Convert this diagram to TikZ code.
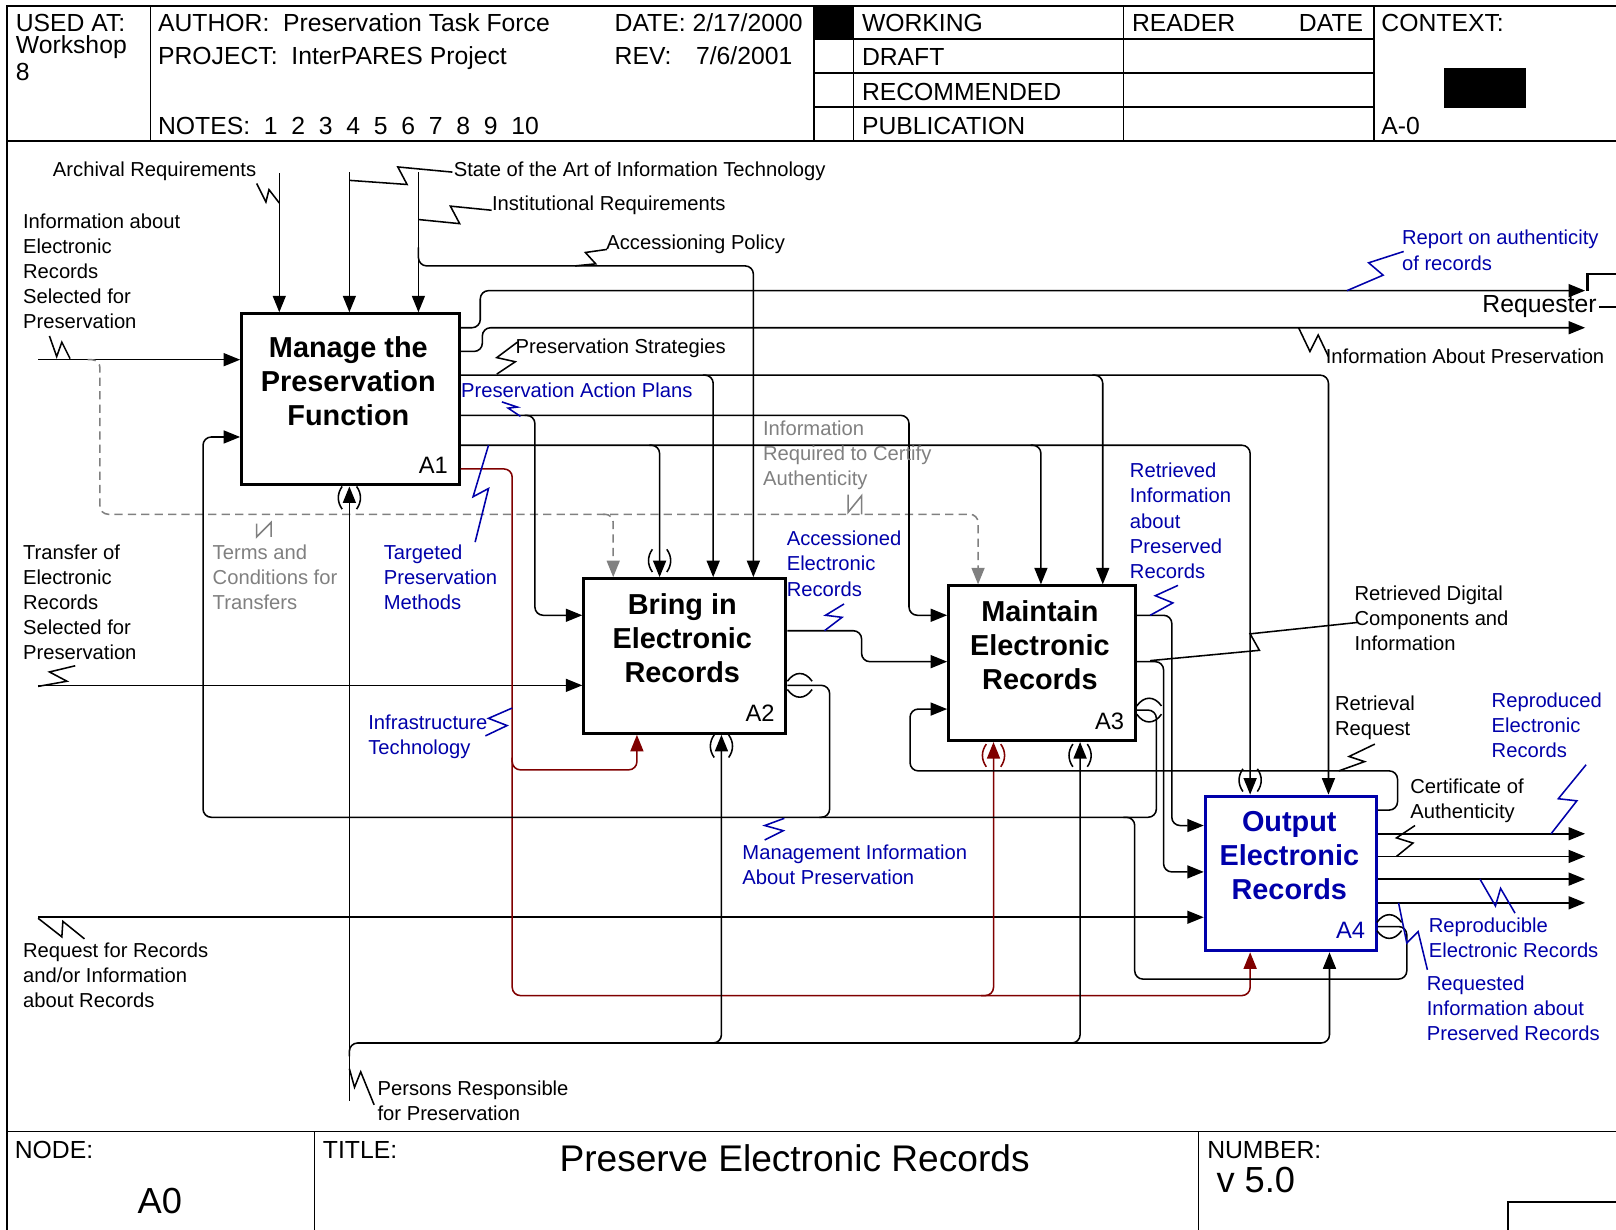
\documentclass[tikz,border=0pt]{standalone}
\usepackage{fontspec}
\setmainfont{Liberation Sans}
\usetikzlibrary{arrows.meta}
\definecolor{idblue}{RGB}{0,0,170}
\definecolor{idred}{RGB}{128,0,0}
\definecolor{idgray}{RGB}{128,128,128}
\tikzset{
 conn/.style={line width=0.75pt, rounded corners=4pt},
 arr/.style={conn, -{Triangle[length=8pt,width=6.3pt]}},
 sq/.style={line width=0.75pt},
 frm/.style={line width=0.8pt},
 lbl/.style={font=\fontsize{9.8}{12.2}\selectfont, inner sep=0pt, align=left, anchor=north west},
 slbl/.style={font=\fontsize{9.8}{12.2}\selectfont, inner sep=0pt, anchor=base west},
 hdr/.style={font=\fontsize{12}{14}\selectfont, inner sep=0pt, anchor=base west},
 abox/.style={draw, line width=1.5pt, inner sep=0pt, anchor=north west},
 ttl/.style={font=\fontsize{14}{16.5}\selectfont\bfseries, align=center, inner sep=0pt},
 bid/.style={font=\fontsize{11.5}{13}\selectfont, inner sep=0pt, anchor=base east},
 gdash/.style={dash pattern=on 4pt off 2.5pt},
}
\newcommand\tunV[3][black]{%
  \draw[sq,#1] (#2-7,#3-11) .. controls (#2-12,#3-4) and (#2-12,#3+4) .. (#2-7,#3+11);
  \draw[sq,#1] (#2+7,#3-11) .. controls (#2+12,#3-4) and (#2+12,#3+4) .. (#2+7,#3+11);}
\newcommand\tunH[2]{%
  \draw[sq] (#1-12,#2-4) .. controls (#1-5,#2-14) and (#1+5,#2-14) .. (#1+12,#2-4);
  \draw[sq] (#1-12,#2+4) .. controls (#1-5,#2+14) and (#1+5,#2+14) .. (#1+12,#2+4);}
\begin{document}
\begin{tikzpicture}[x=0.5pt,y=-0.5pt]
\useasboundingbox (0,0) rectangle (1568,1193);
\clip (0,0) rectangle (1568,1193);
\fill[white] (0,0) rectangle (1568,1193);
% ---------- frame ----------
\draw[frm] (1575,6) -- (7,6) -- (7,1200);
\draw[frm] (7,137) -- (1575,137);
\draw[frm] (7,1098) -- (1575,1098);
\foreach \x in {146,790,828,1090,1333} \draw[frm] (\x,6) -- (\x,137);
\foreach \y in {38,71,104} \draw[frm] (790,\y) -- (1333,\y);
\fill (790,6) rectangle (828,38);
\fill (1401,66) rectangle (1481,105);
\draw[frm] (305,1098) -- (305,1200);
\draw[frm] (1163,1098) -- (1163,1200);
\draw[frm] (1463,1200) -- (1463,1166) -- (1575,1166);
% header text
\node[hdr] (h1) at (15,30.5) {USED AT:};
\node[hdr] (h2) at (15,51.5) {Workshop};
\node[hdr] (h3) at (15,78.5) {8};
\node[hdr] (h4) at (153,30.5) {AUTHOR:\ \ Preservation Task Force};
\node[hdr] (h5) at (153,62.5) {PROJECT:\ \ InterPARES Project};
\node[hdr] (h6) at (153,130.5) {NOTES:\ \ 1\ \ 2\ \ 3\ \ 4\ \ 5\ \ 6\ \ 7\ \ 8\ \ 9\ \ 10};
\node[hdr] (h7) at (596,30.5) {DATE: 2/17/2000};
\node[hdr] (h8) at (596,62.5) {REV:};
\node[hdr] (h8b) at (675,62.5) {7/6/2001};
\node[hdr] (h9) at (836,30.5) {WORKING};
\node[hdr] (h10) at (836,63.5) {DRAFT};
\node[hdr] (h11) at (836,97.5) {RECOMMENDED};
\node[hdr] (h12) at (836,130.5) {PUBLICATION};
\node[hdr] (h13) at (1098,30.5) {READER};
\node[hdr, anchor=base east] (h14) at (1323,30.5) {DATE};
\node[hdr] (h15) at (1340,30.5) {CONTEXT:};
\node[hdr] (h16) at (1340,130.5) {A-0};
% footer text
\node[hdr] (f1) at (14,1124.5) {NODE:};
\node[hdr, font=\fontsize{17.6}{20}\selectfont, anchor=base] (f2) at (155,1177.5) {A0};
\node[hdr] (f3) at (313,1124.5) {TITLE:};
\node[hdr, font=\fontsize{18}{21}\selectfont, anchor=base] (f4) at (771,1137) {Preserve Electronic Records};
\node[hdr] (f5) at (1171,1124.5) {NUMBER:};
\node[hdr, font=\fontsize{17.6}{20}\selectfont] (f6) at (1180,1157.5) {v 5.0};
% ---------- boxes ----------
\node[abox, minimum width=105.5pt, minimum height=83pt] (A1) at (233,303) {};
\node[abox, minimum width=98pt, minimum height=75pt] (A2) at (565,560) {};
\node[abox, minimum width=90.5pt, minimum height=75pt] (A3) at (919,567) {};
\node[abox, draw=idblue, minimum width=83pt, minimum height=75pt] (A4) at (1168,771) {};
\node[ttl] (t1) at (338,370) {Manage the\\Preservation\\Function};
\node[ttl] (t2) at (662,619) {Bring in\\Electronic\\Records};
\node[ttl] (t3) at (1009,626) {Maintain\\Electronic\\Records};
\node[ttl, text=idblue] (t4) at (1251,830) {Output\\Electronic\\Records};
\node[bid] (i1) at (435,459) {A1};
\node[bid] (i2) at (752,700) {A2};
\node[bid] (i3) at (1091,708) {A3};
\node[bid, text=idblue] (i4) at (1325,911) {A4};
% ---------- controls into A1 ----------
\draw[arr] (271,168) -- (271,0 |- A1.north);
\draw[arr] (339,167) -- (339,0 |- A1.north);
\draw[arr] (406,167) -- (406,0 |- A1.north);
\draw[arr] (406,240) -- (406,258) -- (731,258) -- (731,0 |- A2.north);
\draw[sq] (249,178) -- (258,196) -- (261,184) -- (271,197);
\draw[sq] (339,175) -- (395,179) -- (386,162) -- (439,167);
\draw[sq] (406,213) -- (446,217) -- (437,200) -- (477,204);
\draw[sq] (558,258) -- (578,256) -- (568,245) -- (589,242);
\node[slbl] (l1) at (51,171) {Archival Requirements};
\node[slbl] (l2) at (440,171) {State of the Art of Information Technology};
\node[slbl] (l3) at (477,204) {Institutional Requirements};
\node[slbl] (l4) at (588,242) {Accessioning Policy};
% ---------- inputs ----------
\draw[arr] (37,349) -- (A1.west |- 0,349);
\draw[sq] (48,326) -- (55,346) -- (60,332) -- (68,348);
\node[lbl] (l5) at (22,207) {Information about\\Electronic\\Records\\Selected for\\Preservation};
\draw[arr, idgray, gdash] (85,349) -- (97,349) -- (97,499) -- (949,499) -- (949,0 |- A3.north);
\draw[arr, idgray, gdash] (585,499) -- (595,499) -- (595,0 |- A2.north);
\draw[sq, idgray] (249,508) -- (249,521) -- (263,507) -- (263,521);
\draw[sq, idgray] (823,480) -- (823,497) -- (836,481) -- (836,499);
\node[lbl, text=idgray] (l6) at (206,528) {Terms and\\Conditions for\\Transfers};
\draw[arr] (37,665) -- (A2.west |- 0,665);
\draw[sq] (37,666) -- (65,661) -- (48,652) -- (73,646);
\node[lbl] (l7) at (22,528) {Transfer of\\Electronic\\Records\\Selected for\\Preservation};
\draw[arr] (37,890) -- (A4.west |- 0,890);
\draw[sq] (37,891) -- (60,909) -- (61,894) -- (82,911);
\node[lbl] (l8) at (22,914) {Request for Records\\and/or Information\\about Records};
% ---------- A1 outputs ----------
\draw[arr] (A1.east |- 0,318) -- (466,318) -- (466,282) -- (1538,282);
\draw[arr] (A1.east |- 0,341) -- (468,341) -- (468,318) -- (1538,318);
\draw[sq, idblue] (1307,282) -- (1342,267) -- (1328,255) -- (1362,244);
\node[lbl, text=idblue] (l9) at (1360,223) {Report on authenticity\\of records};
\draw[sq] (1260,318) -- (1271,341) -- (1279,325) -- (1289,346);
\node[slbl] (l10) at (1286,353) {Information About Preservation};
\node[hdr] (req) at (1438,303.5) {Requester};
\draw[line width=1.3pt] (1540,282) -- (1540,266) -- (1575,266);
\draw[sq] ([xshift=1pt]req.east) -- (1575,0 |- req.east);
\draw[arr] (A1.east |- 0,364) -- (1289,364) -- (1289,0 |- A4.north);
\draw[arr] (682,364) -- (692,364) -- (692,0 |- A2.north);
\draw[arr] (1060,364) -- (1070,364) -- (1070,0 |- A3.north);
\draw[sq] (482,363) -- (500,351) -- (482,347) -- (502,332);
\node[slbl] (l11) at (500,343) {Preservation Strategies};
\draw[arr] (A1.east |- 0,403) -- (882,403) -- (882,597) -- (A3.west |- 0,597);
\draw[arr] (509,403) -- (519,403) -- (519,597) -- (A2.west |- 0,597);
\draw[sq, idblue] (487,390) -- (502,395) -- (493,396) -- (505,404);
\node[slbl, text=idblue] (l12) at (447,386) {Preservation Action Plans};
\draw[arr] (A1.east |- 0,432) -- (1213,432) -- (1213,0 |- A4.north);
\draw[arr] (630,432) -- (640,432) -- (640,0 |- A2.north);
\draw[arr] (1000,432) -- (1010,432) -- (1010,0 |- A3.north);
\tunV{640}{544}
\tunV{1213}{757}
\node[lbl, text=idgray] (l13) at (740,408) {Information\\Required to Certify\\Authenticity};
% red
\draw[arr, idred] (A1.east |- 0,455) -- (497,455) -- (497,966) -- (1213,966) -- (1213,0 |- A4.south);
\draw[arr, idred] (497,735) -- (497,747) -- (618,747) -- (618,0 |- A2.south);
\draw[arr, idred] (952,966) -- (964,966) -- (964,0 |- A3.south);
\tunV[idred]{964}{733}
\draw[sq, idblue] (461,526) -- (474,474) -- (459,482) -- (474,432);
\node[lbl, text=idblue] (l14) at (372,528) {Targeted\\Preservation\\Methods};
\draw[sq, idblue] (497,687) -- (474,697) -- (492,704) -- (471,714);
\node[lbl, text=idblue] (l15) at (357,693) {Infrastructure\\Technology};
% ---------- mechanism ----------
\draw[arr] (339,1068) -- (339,0 |- A1.south);
\draw[arr] (339,1025) -- (339,1012) -- (700,1012) -- (700,0 |- A2.south);
\draw[arr] (690,1012) -- (1048,1012) -- (1048,0 |- A3.south);
\draw[arr] (1038,1012) -- (1290,1012) -- (1290,0 |- A4.south);
\tunV{339}{483}
\tunV{700}{724}
\tunV{1048}{733}
\draw[sq] (339,1037) -- (344,1055) -- (350,1040) -- (363,1072);
\node[lbl] (l16) at (366,1048) {Persons Responsible\\for Preservation};
% ---------- A2 outputs ----------
\draw[arr] (A2.east |- 0,612) -- (836,612) -- (836,642) -- (A3.west |- 0,642);
\draw[sq, idblue] (800,612) -- (817,599) -- (801,597) -- (819,586);
\node[lbl, text=idblue] (l17) at (763,515) {Accessioned\\Electronic\\Records};
% management information loop
\draw[arr] (A3.east |- 0,689) -- (1122,689) -- (1122,793) -- (197,793) -- (197,424) -- (A1.west |- 0,424);
\draw[conn] (A2.east |- 0,665) -- (805,665) -- (805,793) -- (795,793);
\draw[conn] (A4.east |- 0,899) -- (1365,899) -- (1365,950) -- (1101,950) -- (1101,793) -- (1090,793);
\tunH{776}{665}
\tunH{1115}{689}
\tunH{1348}{899}
\draw[sq, idblue] (761,794) -- (742,801) -- (760,806) -- (742,815);
\node[lbl, text=idblue] (l18) at (720,819) {Management Information\\About Preservation};
% ---------- A3 outputs ----------
\draw[arr] (A3.east |- 0,597) -- (1137,597) -- (1137,801) -- (A4.west |- 0,801);
\draw[arr] (A3.east |- 0,642) -- (1129,642) -- (1129,846) -- (A4.west |- 0,846);
\draw[sq, idblue] (1116,597) -- (1138,585) -- (1121,578) -- (1143,568);
\node[lbl, text=idblue] (l19) at (1096,449) {Retrieved\\Information\\about\\Preserved\\Records};
\draw[sq] (1116,641) -- (1222,631) -- (1213,615) -- (1317,604);
\node[lbl] (l20) at (1314,568) {Retrieved Digital\\Components and\\Information};
% ---------- A4 outputs ----------
\draw[arr] (A4.east |- 0,786) -- (1356,786) -- (1356,748) -- (883,748) -- (883,688) -- (A3.west |- 0,688);
\draw[sq] (1299,748) -- (1324,739) -- (1309,734) -- (1334,722);
\node[lbl] (l21) at (1295,675) {Retrieval\\Request};
\foreach \yy in {809,831,853,876} \draw[arr] (A4.east |- 0,\yy) -- (1538,\yy);
\draw[sq] (1355,831) -- (1371,818) -- (1355,813) -- (1373,801);
\node[lbl] (l22) at (1368,755) {Certificate of\\Authenticity};
\draw[sq, idblue] (1505,809) -- (1530,777) -- (1512,775) -- (1539,742);
\node[lbl, text=idblue] (l23) at (1447,672) {Reproduced\\Electronic\\Records};
\draw[sq, idblue] (1436,853) -- (1451,879) -- (1456,862) -- (1470,886);
\node[lbl, text=idblue] (l24) at (1386,890) {Reproducible\\Electronic Records};
\draw[sq, idblue] (1357,876) -- (1365,915) -- (1376,904) -- (1385,941);
\node[lbl, text=idblue] (l25) at (1384,946) {Requested\\Information about\\Preserved Records};
\end{tikzpicture}
\end{document}
